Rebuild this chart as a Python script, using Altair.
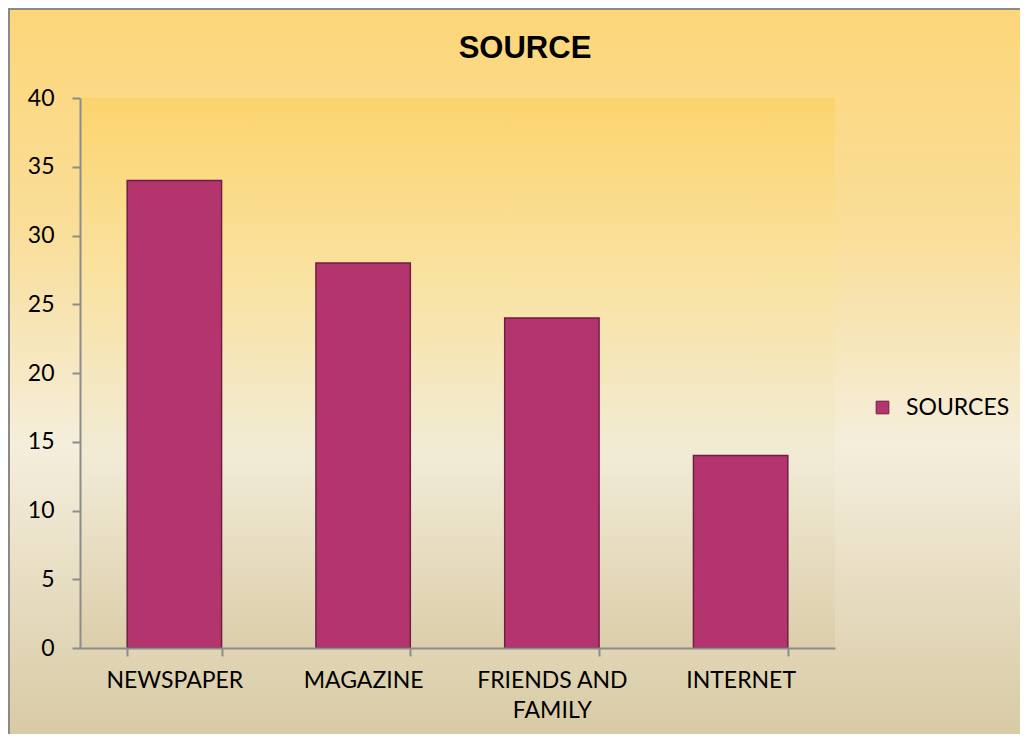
import altair as alt
import pandas as pd

categories = ["NEWSPAPER", "MAGAZINE", "FRIENDS AND FAMILY", "INTERNET"]
values = [34, 28, 24, 14]
series_name = "SOURCES"
chart_title = "SOURCE"
y_ticks = [0, 5, 10, 15, 20, 25, 30, 35, 40]

df = pd.DataFrame({"category": categories, "value": values, "series": [series_name] * len(categories)})

W, H = 755, 550
PL, PT, PR, PB = 72, 90, 185, 86
FONT = "Lato"
BAR = "#B4356E"

bg_data = alt.Data(values=[{"title": chart_title}])

outer_bg = alt.Chart(bg_data).mark_rect(
    fill=alt.Gradient(
        gradient="linear", x1=0, y1=0, x2=0, y2=1,
        stops=[
            alt.GradientStop(offset=0, color="#FCD679"),
            alt.GradientStop(offset=0.3, color="#FADE98"),
            alt.GradientStop(offset=0.6, color="#F4EEDC"),
            alt.GradientStop(offset=1, color="#D8CAA4"),
        ],
    ),
    stroke="#8A8A8A", strokeWidth=2,
).encode(
    x=alt.value(-PL + 1), x2=alt.value(W + PR + 4),
    y=alt.value(-PT + 1), y2=alt.value(H + PB + 4),
)

plot_bg = alt.Chart(bg_data).mark_rect(
    fill=alt.Gradient(
        gradient="linear", x1=0, y1=0, x2=0, y2=1,
        stops=[
            alt.GradientStop(offset=0, color="#FCD46E"),
            alt.GradientStop(offset=0.35, color="#F9E3A5"),
            alt.GradientStop(offset=0.65, color="#F1EBD6"),
            alt.GradientStop(offset=1, color="#DCCEAA"),
        ],
    ),
).encode(x=alt.value(0), x2=alt.value(W), y=alt.value(0), y2=alt.value(H))

title_text = alt.Chart(bg_data).mark_text(
    font="Liberation Sans", fontSize=31, fontWeight="bold", color="#000000",
    align="center", baseline="alphabetic",
).encode(x=alt.value(445), y=alt.value(-40), text="title:N")

bars = alt.Chart(df).mark_bar(
    stroke="#6E1E44", strokeWidth=1.5,
).encode(
    x=alt.X("category:N", sort=categories, title=None,
            scale=alt.Scale(paddingInner=0.5, paddingOuter=0.25),
            axis=alt.Axis(
                labelAngle=0, labelFont=FONT, labelFontSize=23, labelColor="#000000",
                labelPadding=13, labelLineHeight=30,
                labelExpr="datum.label == 'FRIENDS AND FAMILY' ? ['FRIENDS AND', 'FAMILY'] : datum.label",
                domainColor="#8C8C8C", domainWidth=2, tickColor="#8C8C8C", tickWidth=2,
                tickSize=8, tickBand="extent", zindex=1,
            )),
    y=alt.Y("value:Q", title=None,
            scale=alt.Scale(domain=[0, 40], nice=False),
            axis=alt.Axis(
                values=y_ticks, labelFont=FONT, labelFontSize=23, labelColor="#000000",
                labelPadding=18, grid=False,
                domainColor="#8C8C8C", domainWidth=2, tickColor="#8C8C8C", tickWidth=2,
                tickSize=8, zindex=1,
            )),
    color=alt.Color("series:N", title=None,
                    scale=alt.Scale(domain=[series_name], range=[BAR]),
                    legend=alt.Legend(
                        orient="none", legendX=791, legendY=298,
                        symbolType="square", symbolSize=160, symbolStrokeColor="#6E1E44",
                        symbolStrokeWidth=1, labelFont=FONT, labelFontSize=23,
                        labelColor="#000000", labelOffset=12, padding=0,
                    )),
)

chart = alt.layer(outer_bg, plot_bg, title_text, bars).properties(
    width=W, height=H,
    padding={"left": PL, "top": PT, "right": PR, "bottom": PB},
    autosize=alt.AutoSizeParams(type="none"),
).configure_view(stroke=None)

chart.save("out.html", embed_options={"renderer": "svg", "actions": False})
